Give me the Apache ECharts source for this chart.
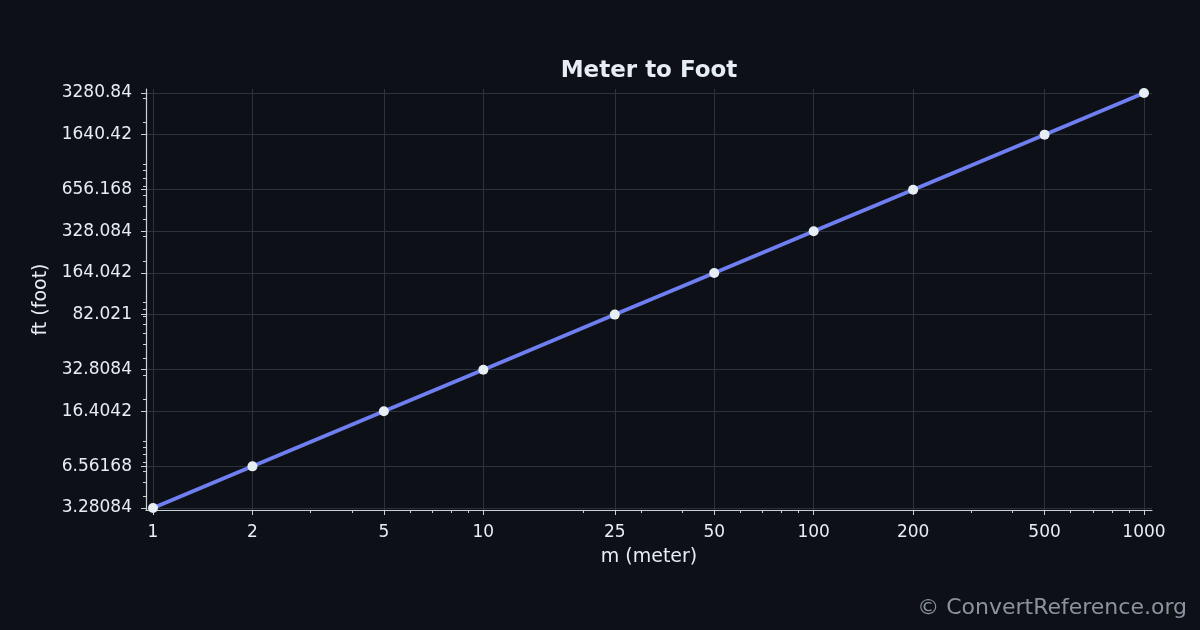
<!DOCTYPE html>
<html>
<head>
<meta charset="utf-8">
<title>Meter to Foot</title>
<script src="https://cdn.jsdelivr.net/npm/echarts@6/dist/echarts.min.js"></script>
<style>
  html, body { margin: 0; padding: 0; background: #0d1117; }
  #main { width: 1200px; height: 630px; }
</style>
</head>
<body>
<div id="main"></div>
<script type="text/javascript">
// data: meters and the matching feet
var meters = [1, 2, 5, 10, 25, 50, 100, 200, 500, 1000];
var feet = [3.28084, 6.56168, 16.4042, 32.8084, 82.021, 164.042, 328.084, 656.168, 1640.42, 3280.84];
var feetLabels = ['3.28084', '6.56168', '16.4042', '32.8084', '82.021', '164.042', '328.084', '656.168', '1640.42', '3280.84'];

// log minor ticks
var xMinor = [3, 4, 6, 7, 8, 9, 20, 30, 40, 60, 70, 80, 90, 300, 400, 600, 700, 800, 900];
var yMinor = [4, 5, 6, 7, 8, 9, 10, 20, 30, 40, 50, 60, 70, 80, 90, 100, 200, 300, 400, 500, 600, 700, 800, 900, 1000, 2000, 3000];

var textColor = '#e6edf3';
var lineColor = '#c9d1d9';
var gridColor = '#2d333c';
var font = 'DejaVu Sans';

var myChart = echarts.init(document.getElementById('main'));

var points = meters.map(function (m, i) { return [m, feet[i]]; });

var option = {
    backgroundColor: '#0d1117',
    animation: false,
    textStyle: { fontFamily: font },
    title: {
        text: 'Meter to Foot',
        left: 644,
        top: 55,
        textAlign: 'center',
        textStyle: { color: textColor, fontSize: 23, fontWeight: 'bold', fontFamily: font }
    },
    grid: { left: 146, right: 48, top: 89, bottom: 120, containLabel: false },
    xAxis: [
        {
            type: 'log',
            min: 0.9524,
            max: 1057.3,
            name: 'm (meter)',
            nameLocation: 'middle',
            nameGap: 38,
            nameTextStyle: { color: textColor, fontSize: 19, fontFamily: font },
            axisLine: { show: true, lineStyle: { color: lineColor, width: 1.2 } },
            axisTick: { show: true, length: 5, inside: false, customValues: meters, lineStyle: { color: lineColor } },
            axisLabel: {
                customValues: meters,
                color: textColor, fontSize: 17, margin: 14, fontFamily: font,
                formatter: function (v) { return String(v); }
            },
            splitLine: { show: true, lineStyle: { color: gridColor, width: 1 } },
            minorTick: { show: false },
            minorSplitLine: { show: false }
        },
        {
            type: 'log',
            min: 0.9524,
            max: 1057.3,
            position: 'bottom',
            gridIndex: 0,
            axisLine: { show: false },
            axisTick: { show: true, length: 3, customValues: xMinor, lineStyle: { color: lineColor } },
            axisLabel: { show: false, customValues: xMinor },
            splitLine: { show: false }
        }
    ],
    yAxis: [
        {
            type: 'log',
            min: 3.173,
            max: 3507,
            name: 'ft (foot)',
            nameLocation: 'middle',
            nameGap: 93,
            nameTextStyle: { color: textColor, fontSize: 19, fontFamily: font },
            axisLine: { show: true, lineStyle: { color: lineColor, width: 1.2 } },
            axisTick: { show: true, length: 5, customValues: feet, lineStyle: { color: lineColor } },
            axisLabel: {
                customValues: feet,
                color: textColor, fontSize: 17, margin: 14, fontFamily: font,
                formatter: function (v) {
                    var i = feet.indexOf(v);
                    return i >= 0 ? feetLabels[i] : String(v);
                }
            },
            splitLine: { show: true, lineStyle: { color: gridColor, width: 1 } }
        },
        {
            type: 'log',
            min: 3.173,
            max: 3507,
            position: 'left',
            gridIndex: 0,
            axisLine: { show: false },
            axisTick: { show: true, length: 3, customValues: yMinor, lineStyle: { color: lineColor } },
            axisLabel: { show: false, customValues: yMinor },
            splitLine: { show: false }
        }
    ],
    series: [
        {
            name: 'ft',
            type: 'line',
            xAxisIndex: 0,
            yAxisIndex: 0,
            data: points,
            symbol: 'circle',
            symbolSize: 10,
            itemStyle: { color: '#e6edf3', borderWidth: 0 },
            lineStyle: { color: '#6f7ff2', width: 3.8 },
            z: 5
        }
    ],
    graphic: [
        {
            type: 'text',
            right: 13,
            top: 597,
            style: {
                text: '\u00a9 ConvertReference.org',
                fill: '#8b949e',
                font: '22px "DejaVu Sans"'
            }
        }
    ]
};

myChart.setOption(option);
</script>
</body>
</html>
